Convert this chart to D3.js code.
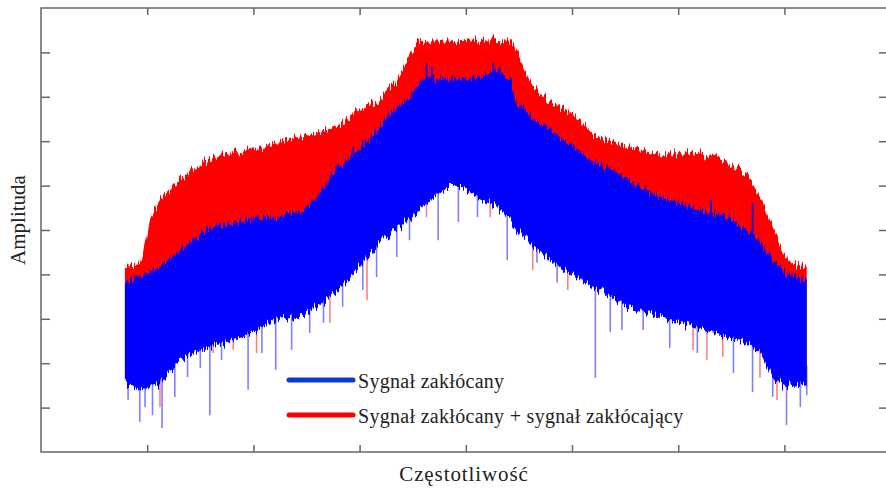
<!DOCTYPE html>
<html>
<head>
<meta charset="utf-8">
<script src="https://cdn.jsdelivr.net/npm/d3@7"></script>
<style>
  body { margin: 0; background: #fff; }
  text { font-family: "Liberation Serif", "DejaVu Serif", serif; fill: #222; }
</style>
</head>
<body>
<script>
// envelopes: [frequency, amplitude]
let redHigh = [[0.79,4.19],[0.93,4.23],[0.96,4.48],[1.03,5.29],[1.12,5.68],[1.21,5.90],[1.31,6.17],[1.40,6.35],
  [1.53,6.53],[1.69,6.69],[1.90,6.76],[2.06,6.85],[2.22,6.96],[2.37,7.07],[2.53,7.14],[2.69,7.25],[2.84,7.41],
  [3.03,7.75],[3.19,7.93],[3.35,8.38],[3.47,8.90],[3.54,9.28],[3.60,9.28],[3.76,9.26],[3.95,9.28],[4.13,9.26],
  [4.32,9.28],[4.42,9.26],[4.48,9.05],[4.54,8.67],[4.60,8.38],[4.73,8.00],[4.86,7.82],[4.98,7.64],[5.08,7.48],
  [5.20,7.14],[5.52,6.87],[5.83,6.73],[6.14,6.73],[6.39,6.62],[6.55,6.42],[6.68,6.13],[6.80,5.61],[6.89,5.07],
  [6.99,4.48],[7.05,4.26],[7.21,4.17]];

let blueHigh = [[0.79,3.87],[0.93,3.94],[1.12,4.17],[1.28,4.48],[1.43,4.77],[1.59,5.07],[1.90,5.23],[2.22,5.29],
  [2.47,5.45],[2.60,5.74],[2.72,6.19],[2.84,6.53],[3.03,6.87],[3.19,7.32],[3.35,7.77],[3.50,8.09],[3.60,8.38],
  [3.82,8.42],[3.97,8.38],[4.13,8.45],[4.29,8.60],[4.42,8.38],[4.48,7.86],[4.60,7.55],[4.76,7.32],[4.92,7.03],
  [5.20,6.58],[5.52,6.13],[5.83,5.74],[6.14,5.52],[6.46,5.29],[6.65,5.00],[6.77,4.71],[6.89,4.32],[7.02,4.03],
  [7.21,3.87]];

let lowEdge = [[0.79,1.51],[0.93,1.40],[1.12,1.55],[1.21,1.91],[1.43,2.23],[1.59,2.36],[1.75,2.52],[1.90,2.59],
  [2.06,2.68],[2.22,2.97],[2.37,2.97],[2.53,3.13],[2.69,3.42],[2.84,3.72],[3.03,4.26],[3.19,4.71],[3.35,5.00],
  [3.50,5.29],[3.66,5.68],[3.82,5.97],[3.92,6.08],[4.07,5.74],[4.23,5.61],[4.35,5.45],[4.48,5.00],[4.60,4.71],
  [4.76,4.39],[4.92,4.10],[5.05,3.94],[5.20,3.72],[5.36,3.42],[5.52,3.27],[5.67,2.97],[5.83,3.04],[5.99,2.97],
  [6.14,2.82],[6.30,2.68],[6.46,2.59],[6.61,2.52],[6.74,2.36],[6.84,1.91],[6.93,1.46],[7.08,1.46],[7.21,1.55]];

// single deep dips below the band: [frequency, lowest amplitude]
let blueDips = [[0.82,1.17],[0.93,0.68],[0.98,1.01],[1.05,0.83],[1.14,0.54],[1.26,1.24],[1.38,1.69],[1.50,1.89],
  [1.59,0.83],[1.70,2.07],[1.95,1.40],[2.08,2.23],[2.21,1.85],[2.36,2.30],[2.53,2.68],[2.66,2.91],[2.84,3.27],
  [3.03,3.65],[3.16,3.94],[3.35,4.39],[3.47,4.77],[3.74,4.77],[3.93,5.18],[4.11,5.29],[4.39,4.32],[4.48,4.93],
  [4.67,4.26],[4.86,3.81],[5.22,1.67],[5.36,2.70],[5.47,2.75],[5.67,2.75],[5.92,2.34],[6.18,2.23],[6.33,2.68],
  [6.52,1.78],[6.70,1.35],[6.89,1.24],[7.02,0.61],[7.15,1.01],[7.21,1.28]];

let redDips = [[1.12,1.01],[1.62,2.23],[1.81,2.30],[2.03,2.23],[2.72,2.91],[3.07,3.42],[3.63,5.29],[4.23,5.29],
  [4.63,4.10],[4.79,4.39],[4.96,3.65],[6.14,2.30],[6.27,2.07],[6.42,2.14],[6.77,1.67],[6.93,1.17]];

// blue peaks poking into the red band: [frequency, highest amplitude]
let bluePeaks = [[2.94,6.87],[3.03,7.03],[3.63,8.76],[3.68,8.67],[4.26,8.76],[4.32,8.67],[6.31,5.68],[6.70,5.61]];

let xTicks = [1, 2, 3, 4, 5, 6, 7];
let yTicks = [1, 2, 3, 4, 5, 6, 7, 8, 9];

let seriesNames = ["Sygnał zakłócany", "Sygnał zakłócany + sygnał zakłócający"];
let seriesColors = ["#0a3ad0", "#ff0000"];

let svg = d3.select("body").append("svg").attr("width", 886).attr("height", 490);

let x = d3.scaleLinear().domain([0, 7.966]).range([41, 887]);
let y = d3.scaleLinear().domain([0, 10]).range([452, 8]);

// rough edge for the dense spectrum bands (vertical jitter only)
let filt = svg.append("defs").append("filter").attr("id", "rough")
    .attr("filterUnits", "userSpaceOnUse").attr("x", 0).attr("y", 0).attr("width", 886).attr("height", 490);
filt.append("feTurbulence").attr("type", "fractalNoise").attr("baseFrequency", "0.55 0.015")
    .attr("numOctaves", 2).attr("seed", 4).attr("result", "noise");
filt.append("feColorMatrix").attr("in", "noise").attr("type", "matrix")
    .attr("values", "0 0 0 0 0.5  0 1.6 0 0 -0.3  0 0 0 0 0  0 0 0 0 1").attr("result", "vnoise");
filt.append("feDisplacementMap").attr("in", "SourceGraphic").attr("in2", "vnoise")
    .attr("scale", 12).attr("xChannelSelector", "R").attr("yChannelSelector", "G");

function edgeAt(arr, f) {
    let i = d3.bisector(d => d[0]).left(arr, f);
    if (i <= 0) return arr[0][1];
    if (i >= arr.length) return arr[arr.length - 1][1];
    let a = arr[i - 1], b = arr[i];
    return a[1] + (b[1] - a[1]) * (f - a[0]) / (b[0] - a[0]);
}

let plot = svg.append("g");

// dips first, the bands cover their upper ends
plot.selectAll("line.rdip").data(redDips).enter().append("line")
    .attr("class", "rdip")
    .attr("x1", d => x(d[0])).attr("x2", d => x(d[0]))
    .attr("y1", d => y(d[1])).attr("y2", d => y(edgeAt(lowEdge, d[0]) + 0.4))
    .attr("stroke", "#ff0000").attr("stroke-opacity", 0.5).attr("stroke-width", 1.6);

plot.selectAll("line.bdip").data(blueDips).enter().append("line")
    .attr("class", "bdip")
    .attr("x1", d => x(d[0])).attr("x2", d => x(d[0]))
    .attr("y1", d => y(d[1])).attr("y2", d => y(edgeAt(lowEdge, d[0]) + 0.4))
    .attr("stroke", "#0000ff").attr("stroke-opacity", 0.5).attr("stroke-width", 1.6);

let redArea = d3.area()
    .x(d => x(d[0]))
    .y0(d => y(edgeAt(lowEdge, d[0]) + 0.1))
    .y1(d => y(d[1]));

plot.append("path").attr("d", redArea(redHigh)).attr("fill", "#ff0000").attr("filter", "url(#rough)");

let blueArea = d3.area()
    .x(d => x(d[0]))
    .y0(d => y(edgeAt(lowEdge, d[0])))
    .y1(d => y(d[1]));

plot.append("path").attr("d", blueArea(blueHigh)).attr("fill", "#0000ff").attr("filter", "url(#rough)");

plot.selectAll("line.bpeak").data(bluePeaks).enter().append("line")
    .attr("class", "bpeak")
    .attr("x1", d => x(d[0])).attr("x2", d => x(d[0]))
    .attr("y1", d => y(d[1])).attr("y2", d => y(edgeAt(blueHigh, d[0]) - 0.2))
    .attr("stroke", "#0000ff").attr("stroke-width", 1.6);

// frame and inward ticks
let axisColor = "#666";
svg.append("rect").attr("x", 41).attr("y", 8).attr("width", 846).attr("height", 444)
    .attr("fill", "none").attr("stroke", axisColor).attr("stroke-width", 1.5);

let axes = [
    [d3.axisBottom(x).tickValues(xTicks).tickSize(-7), "translate(0,452)"],
    [d3.axisTop(x).tickValues(xTicks).tickSize(-7), "translate(0,8)"],
    [d3.axisLeft(y).tickValues(yTicks).tickSize(-9), "translate(41,0)"],
    [d3.axisRight(y).tickValues(yTicks).tickSize(-8), "translate(887,0)"]
];
axes.forEach(([ax, tr]) => {
    let g = svg.append("g").attr("transform", tr).call(ax.tickFormat(""));
    g.select(".domain").remove();
    g.selectAll("line").attr("stroke", axisColor).attr("stroke-width", 1.5);
});

// axis titles
svg.append("text").attr("x", 464).attr("y", 481).attr("text-anchor", "middle")
    .attr("font-size", 21).attr("letter-spacing", 0.9).text("Częstotliwość");
svg.append("text").attr("transform", "translate(25,220) rotate(-90)").attr("text-anchor", "middle")
    .attr("font-size", 21).text("Amplituda");

// legend
let legend = svg.append("g");
seriesNames.forEach((name, i) => {
    let ly = 380 + i * 35;
    legend.append("line").attr("x1", 289).attr("x2", 353).attr("y1", ly).attr("y2", ly)
        .attr("stroke", seriesColors[i]).attr("stroke-width", 5).attr("stroke-linecap", "round");
    legend.append("text").attr("x", 358).attr("y", ly + 8).attr("font-size", 20)
        .attr("letter-spacing", 0.3).text(name);
});
</script>
</body>
</html>
